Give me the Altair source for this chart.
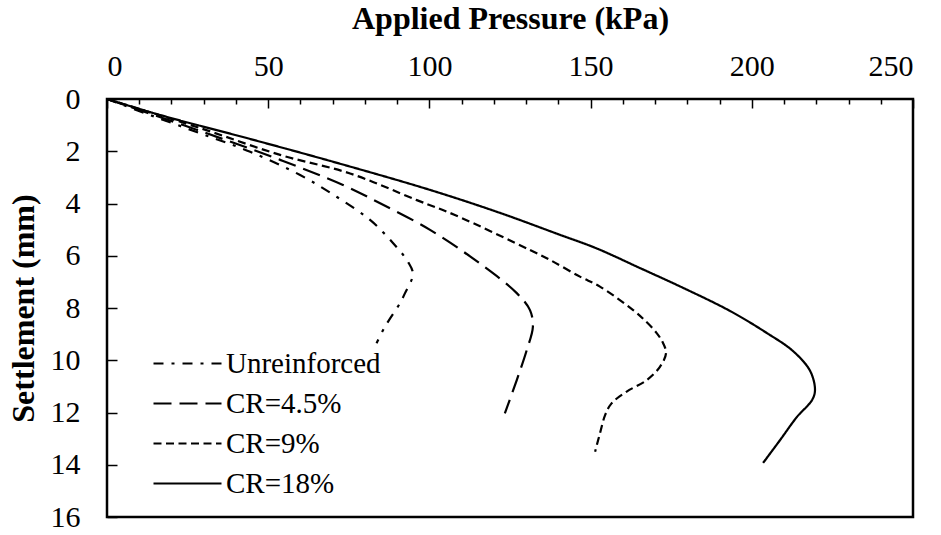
import altair as alt
import pandas as pd

# Applied pressure (kPa) and settlement (mm) for each test
series_names = ["Unreinforced", "CR=4.5%", "CR=9%", "CR=18%"]

unreinf_p = [0, 13.3, 28.8, 44.4, 59.9, 71.2, 81.6, 88.7, 93.4, 94.9, 92.4, 90.9, 86.2, 83.6]
unreinf_s = [0, 0.61, 1.31, 2.02, 2.91, 3.74, 4.63, 5.51, 6.24, 6.70, 7.44, 7.81, 8.72, 9.35]

cr45_p = [0, 28.8, 53.7, 73.2, 84.7, 100.2, 115.7, 127.1, 131.2, 132.1, 130.2, 127.1, 123.4]
cr45_s = [0, 1.22, 2.33, 3.29, 3.99, 5.01, 6.30, 7.43, 8.08, 8.72, 9.61, 10.76, 12.03]

cr9_p = [0, 28.8, 53.7, 75.4, 96.1, 107.9, 131.2, 137.4, 146.7, 152.9, 163.2, 166.2, 170.5,
         172.5, 173.4, 171.5, 167.4, 161.2, 156.5, 154.5, 152.9, 151.4]
cr9_s = [0, 1.11, 2.14, 2.85, 3.87, 4.44, 5.78, 6.16, 6.80, 7.18, 8.08, 8.40, 8.96,
         9.35, 9.73, 10.25, 10.76, 11.20, 11.65, 12.10, 12.80, 13.50]

cr18_p = [0, 16.4, 44.4, 69.2, 100.2, 121.9, 140.5, 151.9, 165.3, 178.7, 193.2, 204.7, 212.8,
          218.1, 219.6, 218.7, 214.0, 208.8, 203.5]
cr18_s = [0, 0.61, 1.53, 2.37, 3.48, 4.36, 5.20, 5.72, 6.47, 7.23, 8.11, 8.96, 9.65,
          10.41, 11.14, 11.52, 12.17, 13.05, 13.93]

# Tick positions: x ticks every 10 kPa, labelled every 50; y ticks every 2 mm
x_tick_values = list(range(0, 251, 10))
y_tick_values = [0, 2, 4, 6, 8, 10, 12, 14, 16]

dash_styles = [[10, 8, 3, 8], [18, 8], [8, 4.5], [1, 0]]

rows = []
for name, ps, ss in zip(series_names,
                        [unreinf_p, cr45_p, cr9_p, cr18_p],
                        [unreinf_s, cr45_s, cr9_s, cr18_s]):
    for i, (p, s) in enumerate(zip(ps, ss)):
        rows.append({"series": name, "i": i, "p": p, "s": s})
df = pd.DataFrame(rows)

FONT = "Liberation Serif"
x_scale = alt.Scale(domain=[0, 250], nice=False, zero=False)
y_scale = alt.Scale(domain=[0, 16], reverse=True, nice=False, zero=False)

# Ticks point into the plot: negative tick lengths given as expressions,
# long ticks at the labelled 50 kPa steps and short ones in between.
# zindex=1 keeps the axes drawn above the plot background.
x_axis = alt.Axis(
    orient="top", values=x_tick_values, title="Applied Pressure (kPa)",
    labelExpr="datum.value % 50 === 0 ? datum.label : ''", labelOverlap=False,
    grid=False, domain=False, ticks=True, zindex=1,
    tickSize={"expr": "datum.value % 50 === 0 ? -9 : -5"},
    tickColor="black", tickWidth=1.5,
    labelFont=FONT, labelFontSize=30, labelColor="black", labelPadding=27,
    titleFont=FONT, titleFontSize=32, titleFontWeight="bold", titleColor="black",
    titlePadding=12,
)
y_axis = alt.Axis(
    orient="left", values=y_tick_values, title="Settlement (mm)", labelOverlap=False,
    grid=False, domain=False, ticks=True, zindex=1,
    tickSize={"expr": "-10"}, tickColor="black", tickWidth=1.5,
    labelFont=FONT, labelFontSize=30, labelColor="black", labelPadding=37,
    titleFont=FONT, titleFontSize=32, titleFontWeight="bold", titleColor="black",
    titlePadding=10,
)

chart = alt.Chart(df).mark_line(
    color="black", strokeWidth=2.2, interpolate="catmull-rom", strokeCap="butt"
).encode(
    x=alt.X("p:Q", scale=x_scale, axis=x_axis),
    y=alt.Y("s:Q", scale=y_scale, axis=y_axis),
    strokeDash=alt.StrokeDash(
        "series:N", scale=alt.Scale(domain=series_names, range=dash_styles),
        sort=series_names,
        legend=alt.Legend(
            title=None, orient="none", legendX=45, legendY=250,
            symbolType="stroke", symbolSize=4624, symbolStrokeWidth=2.2,
            symbolStrokeColor="black", labelFont=FONT, labelFontSize=29,
            labelColor="black", rowPadding=10, clipHeight=29, labelOffset=3, padding=0,
        )),
    order=alt.Order("i:Q"),
).properties(
    width=806, height=418,
    padding={"left": 107, "top": 99, "right": 28, "bottom": 18},
    autosize=alt.AutoSizeParams(type="none"),
    background="white",
).configure_view(stroke="black", strokeWidth=2.5)

chart.save("out.html", embed_options={"renderer": "svg", "actions": False})
